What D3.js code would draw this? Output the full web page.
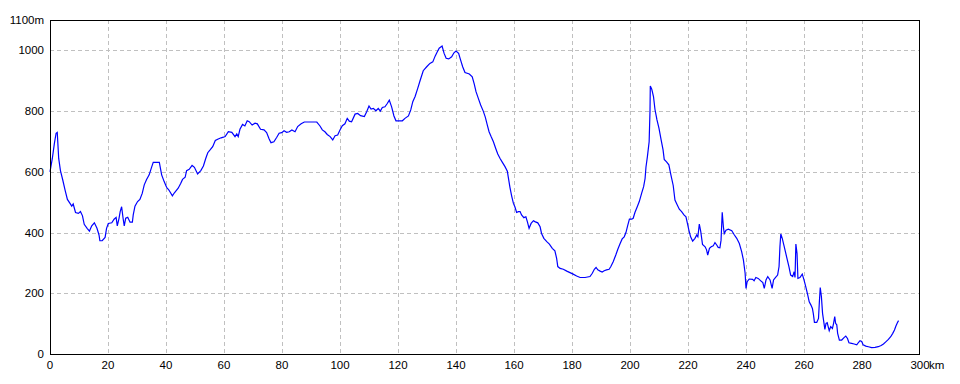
<!DOCTYPE html>
<html>
<head>
<meta charset="utf-8">
<script src="https://cdn.jsdelivr.net/npm/d3@7"></script>
<style>
  body { margin: 0; background: #fff; }
  text { font-family: "Liberation Sans", Arial, sans-serif; font-size: 11.5px; fill: #000; }
</style>
</head>
<body>
<div id="wrapper"></div>
<script>
// elevation profile, distance in km, elevation in m
const distKm = [0, 0.8, 1.5, 2.1, 2.5, 3.0, 3.6, 4.4, 5.2, 6.0, 6.9, 7.5, 8.0, 8.8, 9.8, 10.5, 11.2, 11.8, 12.8, 13.6, 14.4, 15.3, 16.2, 16.9, 17.2, 18.0, 19.0, 19.5, 20.1, 21.3, 22.1, 22.8, 23.2, 23.8, 24.2, 24.7, 25.2, 25.6, 26.1, 26.8, 27.6, 28.4, 28.7, 29.3, 30.2, 31.0, 31.8, 32.5, 33.3, 34.2, 35.1, 35.6, 37.7, 38.5, 39.4, 40.2, 41.0, 42.2, 42.9,
  44.2, 45.1, 45.7, 46.6, 47.1, 48.0, 49.0, 49.8, 50.9, 52.0, 52.9, 53.7, 54.4, 55.2, 56.1, 57.0, 58.0, 59.0, 59.8, 60.4, 61.5, 62.7, 63.8, 64.4, 64.9, 65.5, 66.4, 67.2, 68.0, 68.7, 69.7, 70.7, 71.5, 72.6, 73.8, 74.7, 75.5, 76.2, 77.2, 78.2, 79.0, 79.9, 80.7, 81.6, 82.5, 83.4, 84.5,
  85.4, 86.6, 87.7, 92.0, 93.1, 93.9, 94.8, 95.6, 96.6, 97.5, 98.3, 99.2, 100.0, 100.8, 101.7, 102.5, 103.2, 104.0, 105.2, 106.1, 107.1, 108.4, 109.2, 110.0, 110.7, 111.5, 112.4, 113.2, 113.9, 114.6, 115.5, 116.3, 117.0, 117.8, 118.6, 119.3, 121.5, 122.4, 123.6, 124.4, 125.1, 125.9, 126.8, 127.6,
  128.7, 129.9, 131.0, 132.0, 132.8, 133.6, 134.2, 135.2, 135.9, 136.6, 137.5, 138.5, 139.3, 140.0, 140.9, 141.6, 142.3, 143.1, 144.6, 145.6, 146.3, 146.9, 147.7, 148.5, 149.4, 150.1, 150.8, 151.4, 152.1, 152.9, 153.7, 154.4, 155.2, 156.0, 156.9, 157.7, 158.0, 158.6, 159.2, 159.8, 160.3, 160.9, 161.5, 162.1, 162.6, 163.4, 164.1, 164.6, 165.2, 165.9, 166.7, 167.2, 168.2, 169.0, 169.5, 170.3,
  171.3, 172.2, 173.2, 174.1, 174.7, 175.1, 175.9, 177.0, 178.2, 179.3, 180.4, 181.6, 182.8, 184.5, 186.2, 187.0, 187.7, 188.3, 188.9, 189.7, 190.4, 191.1, 191.9, 192.8, 193.4, 194.2, 195.1, 195.8, 196.6, 197.3, 198.0, 198.6, 199.2, 199.8, 200.6, 201.1, 201.7, 202.5, 203.2, 204.0, 204.7, 205.2, 205.5, 206.0, 206.6, 206.9, 207.0, 207.5, 208.1, 208.6, 209.3, 210.0, 210.7, 211.4, 211.8, 212.6, 213.4, 214.1, 214.9,
  215.5, 216.3, 217.0, 217.8, 218.6, 219.3, 219.8, 220.3, 220.9, 221.6, 222.4, 223.0, 223.4, 223.9, 224.4, 225.0, 225.9, 226.4, 226.8, 227.4, 228.0, 228.7, 229.3, 229.9, 230.4, 231.0, 231.4, 231.8, 232.2, 232.5, 233.1, 233.9, 235.1, 236.0, 236.8, 237.7, 238.5, 239.1, 239.7, 240.0, 240.4, 241.1, 242.3, 242.8, 243.4, 244.2, 245.1, 245.8, 246.3, 246.9, 247.5, 248.3, 249.0, 249.5, 250.2, 250.9, 251.4, 251.7, 252.0, 252.5, 253.2, 254.0, 254.8, 255.4, 256.1, 256.6, 256.9, 257.2, 257.6, 257.9,
  258.6, 259.4, 260.0, 260.6, 261.3, 261.8, 262.4, 262.9, 263.2, 263.6, 264.4, 265.0, 265.3, 265.6, 266.0, 266.4, 266.9, 267.2, 267.6, 268.0, 268.4, 268.7, 269.2, 269.8, 270.2, 270.6, 270.9, 271.3, 271.6, 272.2, 273.0, 273.8, 274.4, 275.0, 275.5, 276.4, 277.3, 278.2, 278.7, 279.3, 279.9, 280.4, 281.3, 282.2, 283.3, 284.5, 285.6, 286.6, 287.4, 288.2, 289.1, 289.9, 290.6, 291.2, 291.7, 292.2, 292.6]

const elevM = [600, 644, 693, 727, 730, 644, 604, 573, 540, 509, 496, 487, 494, 466, 463, 469, 455, 427, 414, 405, 422, 432, 414, 392, 373, 373, 384, 414, 430, 432, 444, 450, 422, 447, 469, 485, 447, 422, 447, 450, 434, 434, 458, 487, 502, 509, 529, 557, 575, 590, 617, 631, 631, 590, 567, 549, 540, 521, 531,
  546, 562, 575, 582, 604, 608, 621, 615, 593, 604, 619, 644, 663, 672, 683, 703, 708, 712, 714, 716, 732, 730, 716, 725, 716, 740, 756, 751, 768, 765, 754, 760, 758, 740, 738, 729, 710, 696, 699, 714, 727, 729, 735, 730, 732, 738, 732,
  749, 758, 764, 764, 751, 738, 732, 723, 716, 705, 719, 721, 738, 752, 758, 776, 767, 765, 790, 792, 785, 782, 798, 817, 807, 809, 801, 809, 800, 812, 814, 825, 836, 814, 784, 768, 768, 776, 784, 804, 831, 848, 875, 900,
  933, 946, 957, 962, 981, 996, 1007, 1014, 990, 974, 972, 979, 992, 998, 990, 968, 946, 927, 922, 913, 889, 864, 842, 820, 800, 780, 754, 732, 716, 699, 677, 659, 644, 631, 617, 602, 584, 549, 520, 496, 485, 466, 469, 469, 458, 449, 452, 436, 414, 430, 439, 436, 432, 419, 397, 381,
  370, 362, 348, 340, 315, 288, 282, 279, 273, 268, 263, 257, 252, 252, 255, 266, 279, 285, 277, 273, 270, 274, 277, 279, 288, 304, 326, 345, 364, 379, 386, 400, 423, 444, 444, 447, 466, 485, 502, 529, 551, 578, 615, 650, 699, 803, 883, 872, 848, 806, 771, 743, 707, 672, 641, 633, 623, 590, 555,
  507, 491, 477, 469, 458, 452, 430, 408, 386, 372, 381, 392, 386, 428, 403, 361, 353, 343, 326, 348, 353, 356, 367, 359, 351, 350, 375, 467, 419, 397, 408, 411, 406, 392, 381, 364, 337, 310, 266, 216, 238, 247, 246, 241, 252, 249, 241, 235, 216, 244, 255, 244, 216, 244, 252, 260, 288, 353, 395, 381, 353, 320, 288, 260, 255, 271, 252, 362, 331, 249,
  252, 263, 244, 222, 194, 172, 161, 150, 134, 104, 104, 117, 172, 219, 189, 134, 101, 81, 101, 103, 88, 77, 90, 84, 101, 123, 101, 96, 68, 46, 46, 54, 59, 51, 37, 35, 33, 30, 37, 44, 41, 30, 26, 24, 21, 22, 24, 28, 33, 40, 48, 57, 68, 79, 92, 103, 110]

const xTicks = [0, 20, 40, 60, 80, 100, 120, 140, 160, 180, 200, 220, 240, 260, 280, 300]
const yTicks = [0, 200, 400, 600, 800, 1000, 1100]

const dataset = distKm.map((d, i) => ({ km: d, m: elevM[i] }))
const xAccessor = d => d.km
const yAccessor = d => d.m

let dimensions = {
  width: 960,
  height: 384,
  margin: { top: 20, right: 40, bottom: 30, left: 50 },
}
dimensions.boundedWidth = dimensions.width - dimensions.margin.left - dimensions.margin.right
dimensions.boundedHeight = dimensions.height - dimensions.margin.top - dimensions.margin.bottom

const wrapper = d3.select("#wrapper")
  .append("svg")
    .attr("width", dimensions.width)
    .attr("height", dimensions.height)

const bounds = wrapper.append("g")
    .attr("transform", `translate(${dimensions.margin.left},${dimensions.margin.top})`)

const xScale = d3.scaleLinear()
  .domain([0, 300])
  .range([0, dimensions.boundedWidth])

const yScale = d3.scaleLinear()
  .domain([0, 1100])
  .range([dimensions.boundedHeight, 0])

// grid
bounds.append("g")
  .selectAll("line")
  .data(xTicks.slice(1, -1))
  .join("line")
    .attr("x1", d => Math.round(xScale(d)) + 0.5)
    .attr("x2", d => Math.round(xScale(d)) + 0.5)
    .attr("y1", 0)
    .attr("y2", dimensions.boundedHeight)
    .attr("stroke", "#c0c0c0")
    .attr("stroke-dasharray", "4,3")
    .attr("shape-rendering", "crispEdges")

bounds.append("g")
  .selectAll("line")
  .data(yTicks.slice(1, -1))
  .join("line")
    .attr("y1", d => Math.round(yScale(d)) + 0.5)
    .attr("y2", d => Math.round(yScale(d)) + 0.5)
    .attr("x1", 0)
    .attr("x2", dimensions.boundedWidth)
    .attr("stroke", "#c0c0c0")
    .attr("stroke-dasharray", "4,3")
    .attr("shape-rendering", "crispEdges")

// line
const lineGenerator = d3.line()
  .x(d => xScale(xAccessor(d)))
  .y(d => yScale(yAccessor(d)))

bounds.append("path")
    .attr("d", lineGenerator(dataset))
    .attr("fill", "none")
    .attr("stroke", "#0000ff")
    .attr("stroke-width", 1.2)

// frame
bounds.append("rect")
    .attr("x", 0.5)
    .attr("y", 0.5)
    .attr("width", dimensions.boundedWidth - 1)
    .attr("height", dimensions.boundedHeight)
    .attr("fill", "none")
    .attr("stroke", "#000")
    .attr("stroke-width", 1)
    .attr("shape-rendering", "crispEdges")

// axis labels
bounds.append("g")
  .selectAll("text")
  .data(yTicks)
  .join("text")
    .attr("x", -6)
    .attr("y", d => yScale(d) + 4)
    .attr("text-anchor", "end")
    .text(d => d == 1100 ? d + "m" : d)

bounds.append("g")
  .selectAll("text")
  .data(xTicks)
  .join("text")
    .attr("x", d => xScale(d))
    .attr("y", dimensions.boundedHeight + 15)
    .attr("text-anchor", "middle")
    .text(d => d)

// km unit hangs after the last tick label
bounds.append("text")
    .attr("x", xScale(300) + 9)
    .attr("y", dimensions.boundedHeight + 15)
    .text("km")
</script>
</body>
</html>
